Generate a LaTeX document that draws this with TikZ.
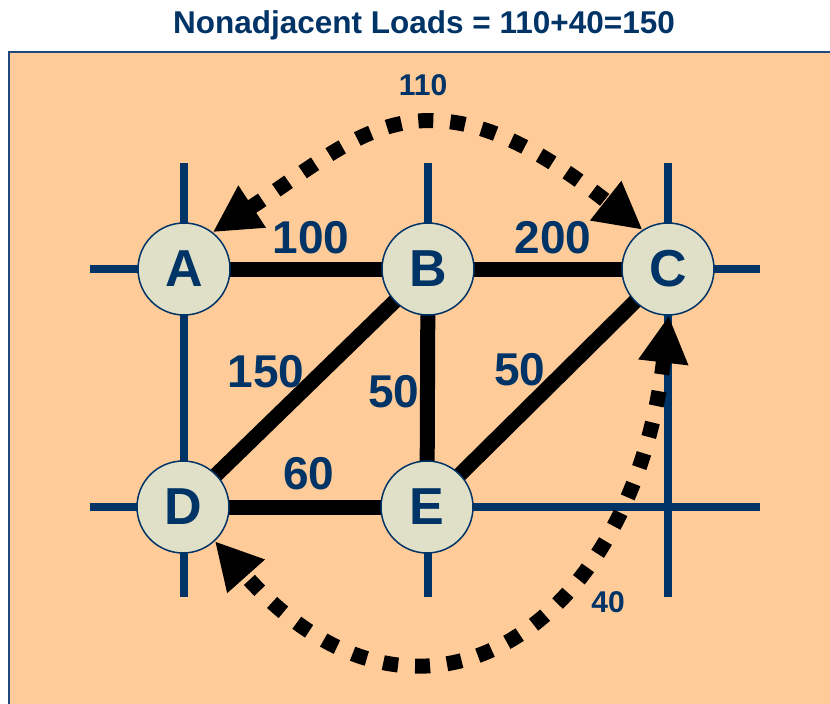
\documentclass[tikz,border=0pt]{standalone}
\usepackage{fontspec}
\setmainfont{Liberation Sans}
\usetikzlibrary{arrows.meta}
\definecolor{navy}{RGB}{0,51,102}
\definecolor{peach}{RGB}{255,204,153}
\definecolor{nodefill}{RGB}{224,224,200}
\definecolor{frameblue}{RGB}{31,73,125}
\pgfdeclarelayer{bg}
\pgfsetlayers{bg,main}
\begin{document}
\begin{tikzpicture}[x=1pt,y=-1pt,
 grid/.style={navy, line width=7.5pt},
 link/.style={black, line width=15pt},
 station/.style={circle, draw=navy, line width=1.5pt, fill=nodefill, minimum size=92pt, inner sep=0pt, text=navy, font=\fontsize{52}{52}\selectfont\bfseries},
 load/.style={text=navy, font=\fontsize{46}{46}\selectfont\bfseries, anchor=base, inner sep=0pt},
 small/.style={text=navy, font=\fontsize{30}{30}\selectfont\bfseries, anchor=base, inner sep=0pt},
 flow/.style={black, line width=15pt, dash pattern=on 15pt off 17pt, {Triangle[length=47pt,width=47pt]}-{Triangle[length=47pt,width=47pt]}}
]
\useasboundingbox (0,0) rectangle (830,704);
\begin{pgfonlayer}{bg}
\fill[white] (0,0) rectangle (830,704);
\draw[frameblue, line width=2.5pt, fill=peach] (9,52) rectangle (845,720);
\end{pgfonlayer}
\node[text=navy, font=\fontsize{31.5}{31.5}\selectfont\bfseries, anchor=base, inner sep=0pt] (title) at (424,33) {Nonadjacent Loads = 110+40=150};
% stations
\node[station] (A) at (184,269) {A};
\node[station] (B) at (428,269) {B};
\node[station] (C) at (668,269) {C};
\node[station] (D) at (183,507) {D};
\node[station] (E) at (427,507) {E};
% grid ends
\coordinate (v1t) at (184,163); \coordinate (v1b) at (184,597);
\coordinate (v2t) at (428,163); \coordinate (v2b) at (428,597);
\coordinate (v3t) at (668,163); \coordinate (v3b) at (668,597);
\coordinate (h1l) at (90,269);  \coordinate (h1r) at (760,269);
\coordinate (h2l) at (90,507);  \coordinate (h2r) at (760,507);
\begin{pgfonlayer}{bg}
\draw[grid] (v1t) -- (v1b);
\draw[grid] (v2t) -- (v2b);
\draw[grid] (v3t) -- (v3b);
\draw[grid] (h1l) -- (h1r);
\draw[grid] (h2l) -- (h2r);
\draw[link] (A.center) -- (B.center);
\draw[link] (B.center) -- (C.center);
\draw[link] (B.center) -- (D.center);
\draw[link] (B.center) -- (E.center);
\draw[link] (C.center) -- (E.center);
\draw[link] (D.center) -- (E.center);
\end{pgfonlayer}
% labels
\node[load] (l100) at (311,253) {100};
\node[load] (l200) at (553,253) {200};
\node[load] (l150) at (266,387) {150};
\node[load] (l50a) at (394,407) {50};
\node[load] (l50b) at (520,385) {50};
\node[load] (l60) at (309,489) {60};
\node[small] (l110) at (423,95) {110};
\node[small] (l40) at (608,612) {40};
% flows
\draw[flow] (A.52) .. controls (362,135) and (424,57) .. (C.123);
\draw[flow] (C.-89) .. controls (632,628) and (420,772) .. (D.-47);
\end{tikzpicture}
\end{document}
